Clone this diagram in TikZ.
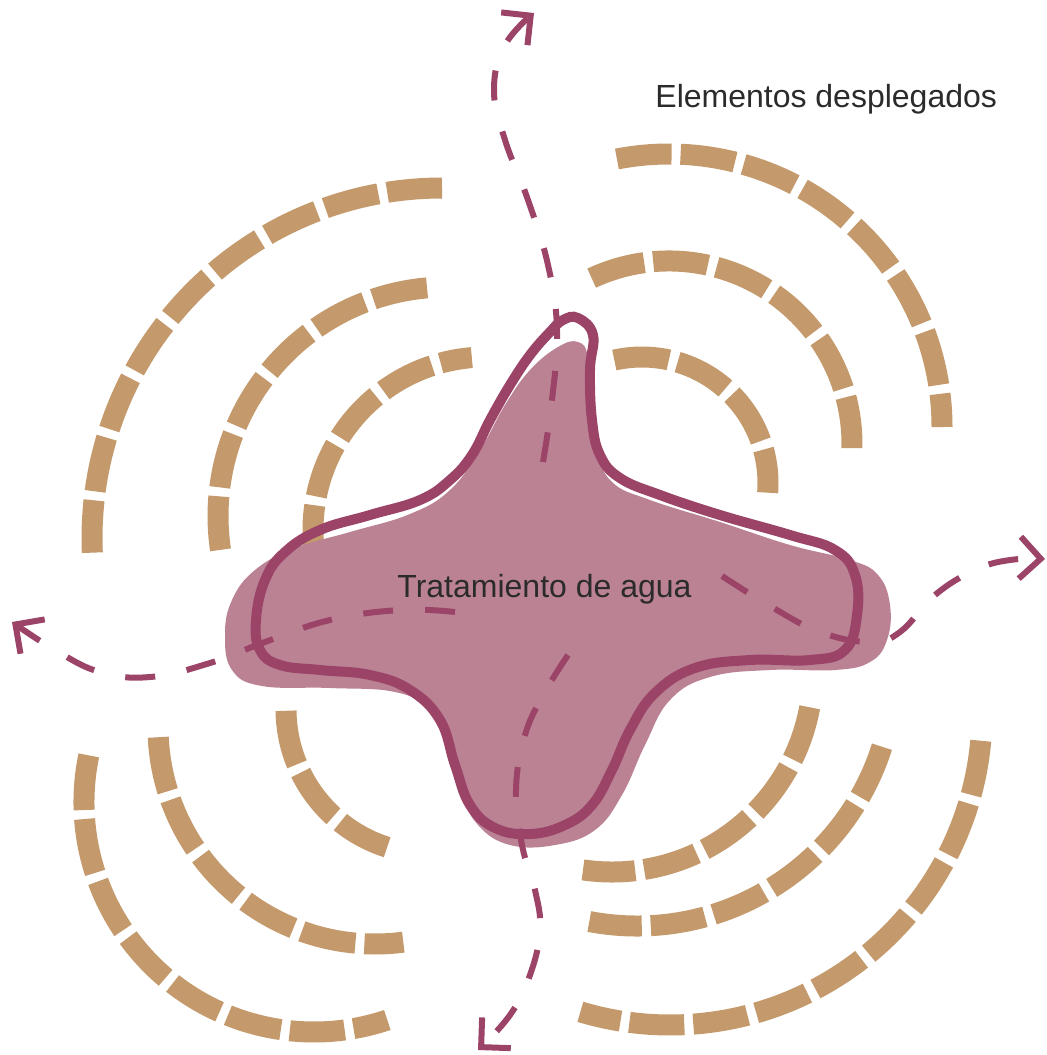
\documentclass[tikz,border=0pt]{standalone}
\usepackage{fontspec}
\setmainfont{Liberation Sans}
\usetikzlibrary{arrows.meta}
\definecolor{tanline}{HTML}{C49A6C}
\definecolor{blobfill}{HTML}{BB8294}
\definecolor{blobline}{HTML}{9C4468}
\definecolor{labelgray}{HTML}{2B2B2B}

\begin{document}
\begin{tikzpicture}[
  x=0.5pt,y=-0.5pt,
  ringdash/.style={draw=tanline,line width=10.5pt,
                   dash pattern=on 27.5pt off 4.5pt},
  blobshape/.style={fill=blobfill},
  bloboutline/.style={draw=blobline,line width=5pt},
  flowline/.style={draw=blobline,line width=3pt,
                   dash pattern=on 15pt off 16pt,
                   -{Straight Barb[length=10.5pt,width=21pt]}},
  caption/.style={font=\fontsize{16}{19}\selectfont,text=labelgray,
                  inner sep=0pt}
]
\useasboundingbox (0,0) rectangle (1047,1055);

\foreach \cx/\cy/\r/\a/\b in {
  442/538/350/-90/-182.4, 447/516/229/-95/-188.5, 486/530/173/-190/-94.7,
  669/427/273/-101/0, 669/444/183/-115/1.3, 642/483/126/-102.7/4.4,
  431/709/145/179.3/107.6, 375/727/217/177.3/82.5, 314/802/230/191.7/71.4,
  612/671/201/10.4/98.3, 637/669/257/17.6/100.7, 670/713/312/5.1/106.7}
  \draw[ringdash] (\cx,\cy) ++(\a:\r)
    arc[start angle=\a,end angle=\b,radius=\r];

\fill[blobshape] plot[smooth cycle,tension=0.7] coordinates {
  (578,342) (588,358) (590,410) (597,450) (612,482) (650,500) (720,522)
  (790,545) (850,560) (878,575) (890,605) (887,640) (870,662) (835,670)
  (770,670) (710,677) (670,700) (645,745) (622,795) (595,830) (555,845)
  (510,845) (478,825) (460,790) (448,745) (430,710) (395,692) (330,688)
  (262,686) (232,670) (225,635) (232,600) (255,570) (295,548) (350,532)
  (410,514) (450,490) (480,450) (505,405) (530,370) (558,347)};

\draw[bloboutline] plot[smooth cycle,tension=0.7] coordinates {
  (578,318) (593,335) (590,370) (592,420) (600,455) (620,478) (660,495)
  (720,515) (790,535) (835,550) (855,575) (857,615) (845,650) (810,660)
  (750,660) (695,668) (655,693) (630,730) (612,770) (592,805) (565,825)
  (530,834) (495,828) (470,805) (455,765) (440,720) (410,690) (370,675)
  (320,670) (280,665) (260,650) (256,620) (265,580) (285,552) (320,530)
  (370,515) (420,500) (450,480) (472,455) (490,420) (510,385) (530,355)
  (550,332) (563,320)};

\coordinate (up0) at (543,462);
\coordinate (upT) at (534,13);
\coordinate (lf0) at (455,612);
\coordinate (lfT) at (12,622);
\coordinate (rt0) at (722,576);
\coordinate (rtT) at (1045,559);
\coordinate (dn0) at (568,655);
\coordinate (dnT) at (478,1050);

\draw[flowline] plot[smooth,tension=0.7] coordinates {
  (up0) (552,400) (557,330) (548,265) (528,200) (505,140) (494,90)
  (505,45) (upT)};
\draw[flowline] plot[smooth,tension=0.7] coordinates {
  (lf0) (400,610) (330,620) (265,642) (210,663) (150,677) (100,672)
  (55,650) (lfT)};
\draw[flowline] plot[smooth,tension=0.7] coordinates {
  (rt0) (770,606) (820,632) (870,642) (900,632) (935,595) (975,570)
  (1010,560) (rtT)};
\draw[flowline] plot[smooth,tension=0.7] coordinates {
  (dn0) (545,692) (525,735) (516,790) (522,845) (535,890) (540,930)
  (530,975) (510,1015) (dnT)};

\node[caption,anchor=base west] (treat) at (397,597) {Tratamiento de agua};
\node[caption,anchor=base west] (deployed) at (655,107)
  {Elementos desplegados};
\end{tikzpicture}
\end{document}
